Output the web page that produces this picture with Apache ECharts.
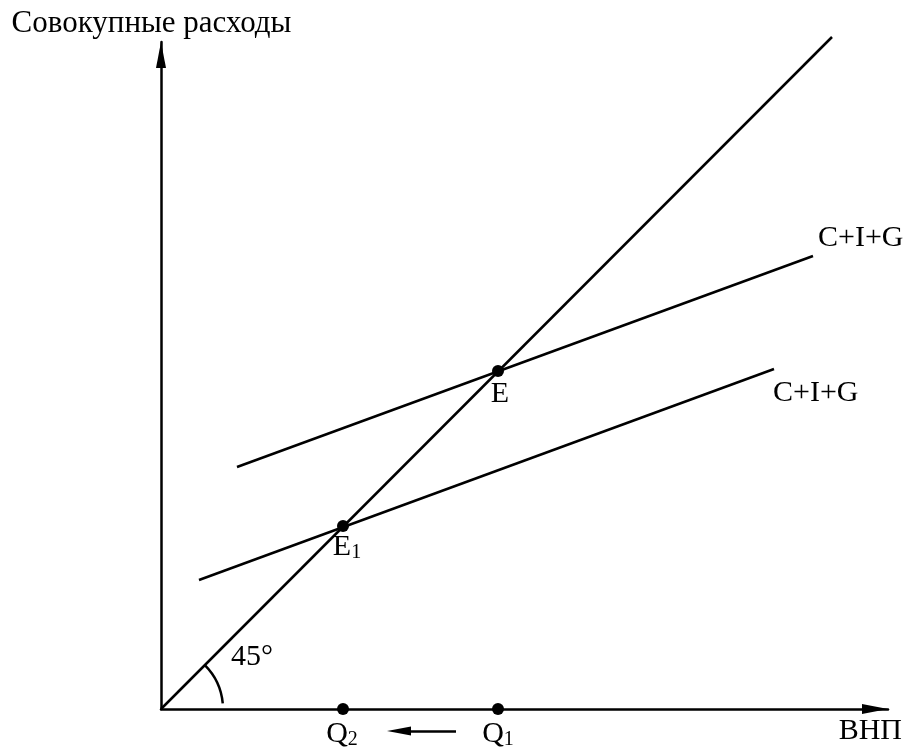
<!DOCTYPE html>
<html>
<head>
<meta charset="utf-8">
<title>Совокупные расходы</title>
<script src="https://cdn.jsdelivr.net/npm/echarts@6/dist/echarts.min.js"></script>
<style>
  html, body { margin: 0; padding: 0; background: #fff; }
  #main { width: 909px; height: 747px; }
</style>
</head>
<body>
<div id="main"></div>
<script>
// values in the diagram's own units, origin at (0, 0)
var line45 = [[0, 0], [67.1, 67.2]];
var spendingHigh = [[7.6, 24.2], [65.2, 45.3]];
var spendingLow = [[3.8, 12.9], [61.3, 34.0]];
var pointNames = ['E', 'E1', 'Q1', 'Q2'];
var pointX = [33.7, 18.2, 33.7, 18.2];
var pointY = [33.8, 18.3, 0, 0];
var shiftArrow = [[29.5, -2.2], [23.8, -2.2]];
var lineName = 'C+I+G';

var font = 'Liberation Serif';
var ink = '#000';
var rich = {
  m: { fontFamily: font, fontSize: 30, lineHeight: 32, color: ink },
  s: { fontFamily: font, fontSize: 20, lineHeight: 19, verticalAlign: 'bottom', color: ink }
};

// "E1" -> E with subscript 1
function subText(name) {
  if (name.length > 1) return '{m|' + name[0] + '}{s|' + name.slice(1) + '}';
  return '{m|' + name + '}';
}

// small nudges so labels sit where they do in the drawing
var pointLabelOffset = {
  E: [2, 1],
  E1: [4, -1],
  Q1: [0, 3],
  Q2: [-1, 3]
};

var points = pointNames.map(function (n, i) {
  return {
    name: n,
    value: [pointX[i], pointY[i]],
    label: { offset: pointLabelOffset[n] }
  };
});

var lineEnds = [
  { name: lineName, value: spendingHigh[1], label: { distance: 4, offset: [0, -18] } },
  { name: lineName, value: spendingLow[1], label: { distance: 0, offset: [-2, 24] } }
];

var chart = echarts.init(document.getElementById('main'));

var plainLine = {
  type: 'line',
  showSymbol: false,
  clip: false,
  silent: true,
  lineStyle: { color: ink, width: 2.5 }
};

var axisArrow = {
  lineStyle: { color: ink, width: 2.5 },
  symbol: ['none', 'triangle'],
  symbolSize: [10, 26],
  symbolOffset: [0, -13]
};

var option = {
  animation: false,
  backgroundColor: '#fff',
  grid: { left: 161, top: 42, width: 727, height: 667 },
  xAxis: {
    type: 'value',
    min: 0,
    max: 72.7,
    name: 'ВНП',
    nameLocation: 'end',
    nameGap: 14,
    nameTextStyle: {
      fontFamily: font, fontSize: 30, lineHeight: 32, color: ink,
      align: 'right', verticalAlign: 'top', padding: [6, 0, 0, 0]
    },
    axisLine: axisArrow,
    axisTick: { show: false },
    axisLabel: { show: false },
    splitLine: { show: false }
  },
  yAxis: {
    type: 'value',
    min: 0,
    max: 66.7,
    name: 'Совокупные расходы',
    nameLocation: 'end',
    nameGap: 2,
    nameTextStyle: {
      fontFamily: font, fontSize: 31, lineHeight: 33, color: ink,
      align: 'center', verticalAlign: 'bottom', padding: [0, 19, 0, 0]
    },
    axisLine: axisArrow,
    axisTick: { show: false },
    axisLabel: { show: false },
    splitLine: { show: false }
  },
  series: [
    Object.assign({ name: '45', data: line45 }, plainLine),
    Object.assign({ name: 'high', data: spendingHigh }, plainLine),
    Object.assign({ name: 'low', data: spendingLow }, plainLine),
    {
      // 45° angle arc at the origin
      type: 'custom',
      silent: true,
      data: [[0, 0]],
      renderItem: function (params, api) {
        var c = api.coord([api.value(0), api.value(1)]);
        var r = api.size([6.2, 0])[0];
        var t = api.coord([9.1, 5.2]);
        return {
          type: 'group',
          children: [
            {
              type: 'arc',
              shape: { cx: c[0], cy: c[1], r: r, startAngle: -Math.PI / 4, endAngle: -0.09, clockwise: true },
              style: { stroke: ink, fill: null, lineWidth: 2.5 }
            },
            {
              type: 'text',
              x: t[0], y: t[1],
              style: { text: '45°', font: '30px "Liberation Serif"', fill: ink, align: 'center', verticalAlign: 'middle' }
            }
          ]
        };
      }
    },
    {
      type: 'lines',
      coordinateSystem: 'cartesian2d',
      clip: false,
      silent: true,
      symbol: ['none', 'triangle'],
      symbolSize: [1, [9, 24]],
      lineStyle: { color: ink, width: 2.5, opacity: 1 },
      data: [{ coords: shiftArrow }]
    },
    {
      type: 'scatter',
      silent: true,
      clip: false,
      symbolSize: 12,
      itemStyle: { color: ink, opacity: 1 },
      label: {
        show: true,
        position: 'bottom',
        distance: 0,
        color: ink,
        opacity: 1,
        formatter: function (p) { return subText(p.name); },
        rich: rich
      },
      data: points,
      z: 5
    },
    {
      type: 'scatter',
      silent: true,
      clip: false,
      symbolSize: 2,
      itemStyle: { color: 'rgba(0,0,0,0)' },
      label: {
        show: true,
        position: 'right',
        color: ink,
        opacity: 1,
        formatter: function (p) { return '{m|' + p.name + '}'; },
        rich: rich
      },
      data: lineEnds
    }
  ]
};

chart.setOption(option);
</script>
</body>
</html>
